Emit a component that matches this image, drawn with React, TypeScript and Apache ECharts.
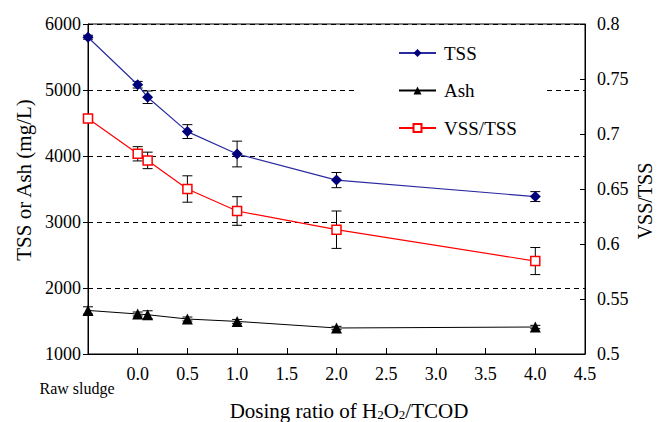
import React, { useEffect, useRef } from "react";
import * as echarts from "echarts";

// Dosing ratio of H2O2/TCOD (raw sludge placed at -0.5)
const xValues = [-0.5, 0, 0.1, 0.5, 1.0, 2.0, 4.0];
const rawLabel = "Raw sludge";
const tss = [5800, 5080, 4890, 4370, 4030, 3635, 3385];
const tssErr = [30, 50, 95, 105, 195, 115, 75];
const ash = [1660, 1606, 1595, 1530, 1494, 1394, 1409];
const ashErr = [55, 30, 60, 30, 30, 25, 25];
const vssTss = [0.714, 0.682, 0.676, 0.65, 0.63, 0.613, 0.5845];
const vssTssErr = [0.003, 0.0065, 0.0075, 0.012, 0.013, 0.017, 0.0123];
const seriesNames = ["TSS", "Ash", "VSS/TSS"];

const FONT = "Liberation Serif";

function errorSeries(ys: number[], errs: number[], yAxisIndex: number) {
  return {
    type: "custom",
    yAxisIndex,
    silent: true,
    z: 1,
    data: xValues.map((x, i) => [x, ys[i] - errs[i], ys[i] + errs[i]]),
    encode: { x: 0, y: [1, 2] },
    renderItem: (params: any, api: any) => {
      const x = api.value(0);
      const lo = api.coord([x, api.value(1)]);
      const hi = api.coord([x, api.value(2)]);
      const hw = 5;
      const st = { stroke: "#000", lineWidth: 1 };
      return {
        type: "group",
        children: [
          { type: "line", shape: { x1: lo[0], y1: lo[1], x2: hi[0], y2: hi[1] }, style: st },
          { type: "line", shape: { x1: lo[0] - hw, y1: lo[1], x2: lo[0] + hw, y2: lo[1] }, style: st },
          { type: "line", shape: { x1: hi[0] - hw, y1: hi[1], x2: hi[0] + hw, y2: hi[1] }, style: st },
        ],
      };
    },
  };
}

export default function App() {
  const ref = useRef<HTMLDivElement>(null);
  useEffect(() => {
    document.body.style.margin = "0";
    const chart = echarts.init(ref.current!, null, { renderer: "svg" });
    chart.setOption({
      animation: false,
      backgroundColor: "#fff",
      textStyle: { fontFamily: FONT },
      grid: {
        left: 88,
        right: 73,
        top: 24,
        bottom: 68,
        show: true,
        borderColor: "#000",
        borderWidth: 1,
      },
      legend: {
        data: seriesNames,
        orient: "vertical",
        left: 355,
        top: 30,
        padding: [13, 28, 10, 43],
        backgroundColor: "#fff",
        itemWidth: 37,
        itemHeight: 10,
        itemGap: 17.5,
        textStyle: { fontFamily: FONT, fontSize: 19, color: "#000", lineHeight: 20, padding: [0, 0, 0, 3] },
      },
      xAxis: {
        type: "value",
        min: -0.5,
        max: 4.5,
        interval: 0.5,
        axisLine: { show: true, onZero: false, lineStyle: { color: "#000", width: 1 } },
        axisTick: { show: true, inside: true, length: 6, lineStyle: { color: "#000" } },
        splitLine: { show: false },
        axisLabel: {
          margin: 11,
          fontFamily: FONT,
          fontSize: 18,
          color: "#000",
          showMinLabel: true,
          showMaxLabel: true,
          formatter: (v: number) => (Math.abs(v + 0.5) < 1e-6 ? `{raw|${rawLabel}}` : v.toFixed(1)),
          rich: {
            raw: { fontFamily: FONT, fontSize: 16, color: "#000", padding: [15, 22, 0, 0] },
          },
        },
      },
      yAxis: [
        {
          type: "value",
          min: 1000,
          max: 6000,
          interval: 1000,
          axisLine: { show: true, onZero: false, lineStyle: { color: "#000", width: 1 } },
          axisTick: { show: true, inside: false, length: 5, lineStyle: { color: "#000" } },
          splitLine: { show: true, lineStyle: { color: "#000", type: [5, 4], width: 1 } },
          axisLabel: {
            margin: 7,
            fontFamily: FONT,
            fontSize: 18,
            color: "#000",
            formatter: (v: number) => String(v),
          },
        },
        {
          type: "value",
          position: "right",
          min: 0.5,
          max: 0.8,
          interval: 0.05,
          axisLine: { show: true, onZero: false, lineStyle: { color: "#000", width: 1 } },
          axisTick: { show: true, inside: true, length: 5, lineStyle: { color: "#000" } },
          splitLine: { show: false },
          axisLabel: {
            margin: 12,
            fontFamily: FONT,
            fontSize: 18,
            color: "#000",
            formatter: (v: number) => String(Math.round(v * 100) / 100),
          },
        },
      ],
      graphic: [
        {
          type: "text",
          x: 24,
          y: 180,
          rotation: Math.PI / 2,
          style: {
            text: "TSS or Ash (mg/L)",
            fontFamily: FONT,
            fontSize: 21,
            fill: "#000",
            align: "center",
            verticalAlign: "middle",
          },
        },
        {
          type: "text",
          x: 645,
          y: 201,
          rotation: Math.PI / 2,
          style: {
            text: "VSS/TSS",
            fontFamily: FONT,
            fontSize: 20,
            fill: "#000",
            align: "center",
            verticalAlign: "middle",
          },
        },
        {
          type: "text",
          x: 349,
          y: 399,
          style: {
            text: "{a|Dosing ratio of H}{s|2}{a|O}{s|2}{a|/TCOD}",
            align: "center",
            verticalAlign: "top",
            rich: {
              a: { fontFamily: FONT, fontSize: 21, fill: "#000", lineHeight: 22, verticalAlign: "bottom" },
              s: { fontFamily: FONT, fontSize: 13, fill: "#000", lineHeight: 13, verticalAlign: "bottom", padding: [6, 0, 0, 0] },
            },
          },
        },
      ],
      series: [
        errorSeries(tss, tssErr, 0),
        errorSeries(ash, ashErr, 0),
        errorSeries(vssTss, vssTssErr, 1),
        {
          name: "TSS",
          type: "line",
          yAxisIndex: 0,
          data: xValues.map((x, i) => [x, tss[i]]),
          symbol: "diamond",
          symbolSize: 11,
          color: "#00007a",
          itemStyle: { color: "#00007a" },
          lineStyle: { color: "#2a2aa0", width: 1.2 },
          z: 3,
        },
        {
          name: "Ash",
          type: "line",
          yAxisIndex: 0,
          data: xValues.map((x, i) => [x, ash[i]]),
          symbol: "triangle",
          symbolSize: 11,
          color: "#000",
          itemStyle: { color: "#000" },
          lineStyle: { color: "#000", width: 1 },
          z: 3,
        },
        {
          name: "VSS/TSS",
          type: "line",
          yAxisIndex: 1,
          data: xValues.map((x, i) => [x, vssTss[i]]),
          symbol: "rect",
          symbolSize: 9,
          color: "#ff0000",
          itemStyle: { color: "#fff", borderColor: "#ff0000", borderWidth: 1.5 },
          lineStyle: { color: "#ff0000", width: 1.2 },
          z: 3,
        },
      ],
    });
    return () => chart.dispose();
  }, []);
  return <div ref={ref} style={{ width: 658, height: 422 }} />;
}
